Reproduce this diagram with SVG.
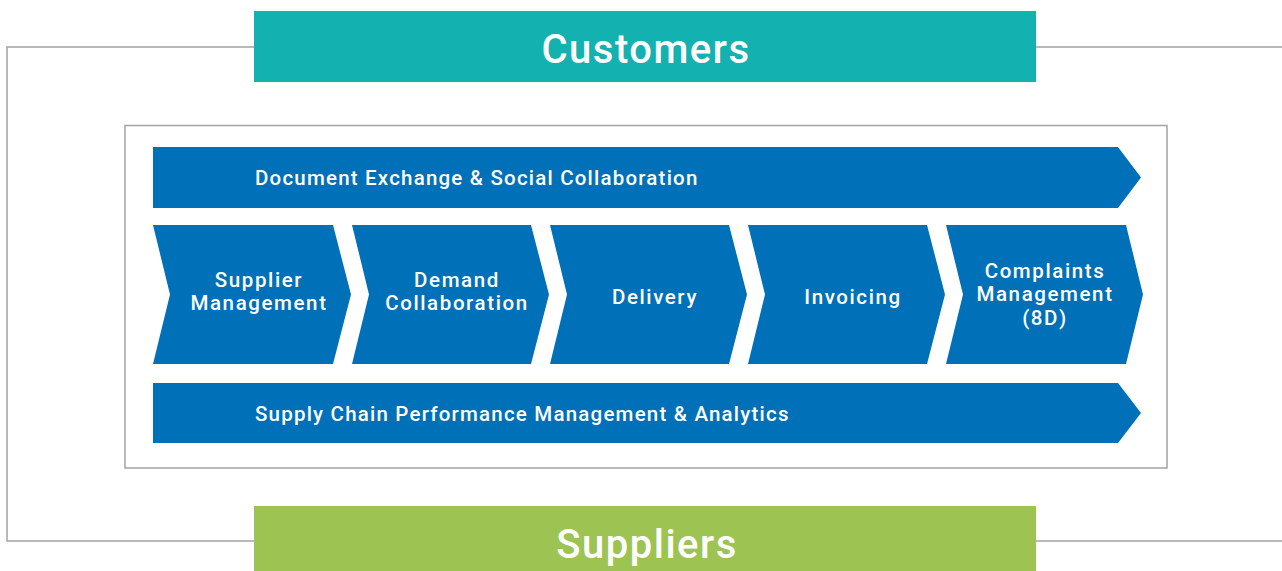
<svg xmlns="http://www.w3.org/2000/svg" width="1282" height="571" viewBox="0 0 1282 571">
<style>
.frame{fill:none;stroke:#a3a3a6;stroke-width:1.5}
.blue{fill:#0070b8}
.t{font-family:Roboto,"Open Sans",sans-serif;font-weight:500;fill:#fff;font-size:20.5px;letter-spacing:1.6px;text-anchor:middle}
.tl{font-family:Roboto,"Open Sans",sans-serif;font-weight:500;fill:#fff;font-size:20.5px;letter-spacing:1.2px}
.big{font-family:Roboto,"Open Sans",sans-serif;font-weight:500;fill:#fff;font-size:40px;letter-spacing:1.5px;text-anchor:middle}
</style>
<rect width="1282" height="571" fill="#fff"/>
<g id="connectors">
<path class="frame" d="M1282,47 H7 V541 H1282"/>
</g>
<g id="frame-inner"><rect class="frame" x="125" y="125.5" width="1042" height="342.5"/></g>
<g id="customers"><rect x="254" y="11" width="782" height="71" fill="#13b1b0"/><text class="big" x="646" y="63">Customers</text></g>
<g id="suppliers"><rect x="254" y="506" width="782" height="65" fill="#9dc353"/><text class="big" x="647" y="558">Suppliers</text></g>
<g id="doc-exchange"><polygon class="blue" points="153,147 1118,147 1141,177.5 1118,208 153,208"/><text class="tl" x="255" y="184.5">Document Exchange &amp; Social Collaboration</text></g>
<g id="supplier-mgmt"><polygon class="blue" points="153,225 333,225 351,294.5 333,364 153,364 170,294.5"/><text class="t" y="287"><tspan x="259">Supplier</tspan><tspan x="259" dy="23">Management</tspan></text></g>
<g id="demand-collab"><polygon class="blue" points="352,225 531,225 549,294.5 531,364 352,364 369,294.5"/><text class="t" y="287"><tspan x="457">Demand</tspan><tspan x="457" dy="23">Collaboration</tspan></text></g>
<g id="delivery"><polygon class="blue" points="550,225 729,225 747,294.5 729,364 550,364 567,294.5"/><text class="t" x="655" y="304">Delivery</text></g>
<g id="invoicing"><polygon class="blue" points="748,225 927,225 945,294.5 927,364 748,364 765,294.5"/><text class="t" x="853" y="304">Invoicing</text></g>
<g id="complaints"><polygon class="blue" points="946,225 1126,225 1143,294.5 1126,364 946,364 963,294.5"/><text class="t" y="278"><tspan x="1045">Complaints</tspan><tspan x="1045" dy="23">Management</tspan><tspan x="1045" dy="24">(8D)</tspan></text></g>
<g id="scpm"><polygon class="blue" points="153,383 1118,383 1141,413 1118,443 153,443"/><text class="tl" x="255" y="420.5">Supply Chain Performance Management &amp; Analytics</text></g>
</svg>
